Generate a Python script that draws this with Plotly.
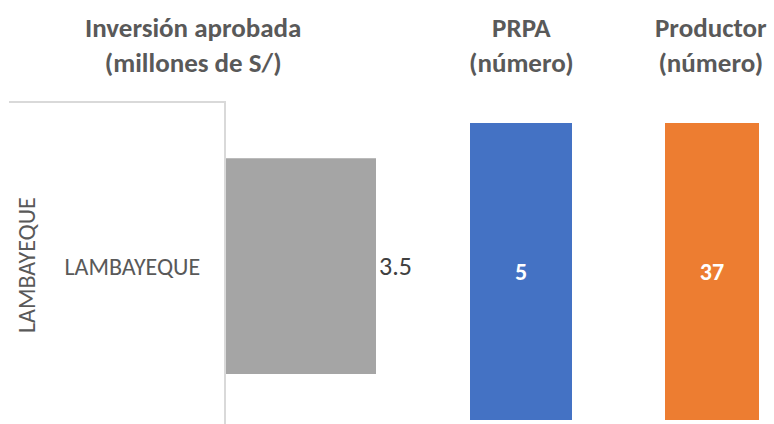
import plotly.graph_objects as go

W, H = 774, 424

region = ["LAMBAYEQUE"]
inversion = [3.5]
prpa = [5]
productor = [37]

titles = ["Inversión aprobada<br>(millones de S/)", "PRPA<br>(número)", "Productor<br>(número)"]

FONT = "Calibri, Carlito, Lato, sans-serif"
GRAY = "#595959"

def px_x(p):
    return p / W

def px_y(p):
    return 1 - p / H

fig = go.Figure()

# Horizontal bar: Inversion
fig.add_trace(go.Bar(
    x=inversion, y=region, orientation="h",
    marker=dict(color="#a5a5a5", line=dict(width=0)),
    width=0.67,
    text=[f"{v}" for v in inversion], textposition="outside",
    textfont=dict(family=FONT, size=26, color="#404040"),
    cliponaxis=False,
    xaxis="x", yaxis="y",
))

# PRPA
fig.add_trace(go.Bar(
    x=region, y=prpa,
    marker=dict(color="#4472c4", line=dict(width=0)),
    width=1.0,
    text=[str(v) for v in prpa], textposition="inside", insidetextanchor="middle",
    textfont=dict(family=FONT, size=24, color="white", weight="bold"),
    xaxis="x2", yaxis="y2",
))

# Productor
fig.add_trace(go.Bar(
    x=region, y=productor,
    marker=dict(color="#ed7d31", line=dict(width=0)),
    width=1.0,
    text=[str(v) for v in productor], textposition="inside", insidetextanchor="middle",
    textfont=dict(family=FONT, size=24, color="white", weight="bold"),
    xaxis="x3", yaxis="y3",
))

inv_end = 460
inv_range = 3.5 * (inv_end - 226) / (376 - 226)

fig.update_layout(
    width=W, height=H,
    margin=dict(l=0, r=0, t=0, b=0),
    paper_bgcolor="white", plot_bgcolor="rgba(0,0,0,0)",
    showlegend=False,
    font=dict(family=FONT, color=GRAY),
    xaxis=dict(domain=[px_x(226), px_x(inv_end)], range=[0, inv_range],
               visible=False, fixedrange=True),
    yaxis=dict(domain=[0, px_y(102)], range=[-0.49, 0.51],
               showline=True, linecolor="#d9d9d9", linewidth=2,
               ticks="", showgrid=False, zeroline=False,
               ticklabelstandoff=19,
               tickfont=dict(family=FONT, size=24, color=GRAY)),
    xaxis2=dict(domain=[px_x(470), px_x(572)], range=[-0.5, 0.5], visible=False,
                anchor="y2"),
    yaxis2=dict(domain=[px_y(420), px_y(123)], range=[0, prpa[0]], visible=False,
                anchor="x2"),
    xaxis3=dict(domain=[px_x(665), px_x(759)], range=[-0.5, 0.5], visible=False,
                anchor="y3"),
    yaxis3=dict(domain=[px_y(420), px_y(123)], range=[0, productor[0]], visible=False,
                anchor="x3"),
)

# Top divider line of the category axis
fig.add_shape(type="line", xref="paper", yref="paper",
              x0=px_x(9), x1=px_x(226), y0=px_y(102), y1=px_y(102),
              line=dict(color="#d9d9d9", width=2))

# Outer category label (rotated)
fig.add_annotation(text=region[0], xref="paper", yref="paper",
                   x=px_x(26), y=px_y(265), showarrow=False, textangle=-90,
                   font=dict(family=FONT, size=24, color=GRAY),
                   xanchor="center", yanchor="middle")

# Column titles
for t, cx in zip(titles, [193, 521, 711]):
    fig.add_annotation(text=t, xref="paper", yref="paper",
                       x=px_x(cx), y=px_y(45), showarrow=False,
                       font=dict(family=FONT, size=27, color=GRAY, weight="bold"),
                       xanchor="center", yanchor="middle")

fig.write_html("out.html", config={"displayModeBar": False},
               post_script="document.body.style.margin='0';")
